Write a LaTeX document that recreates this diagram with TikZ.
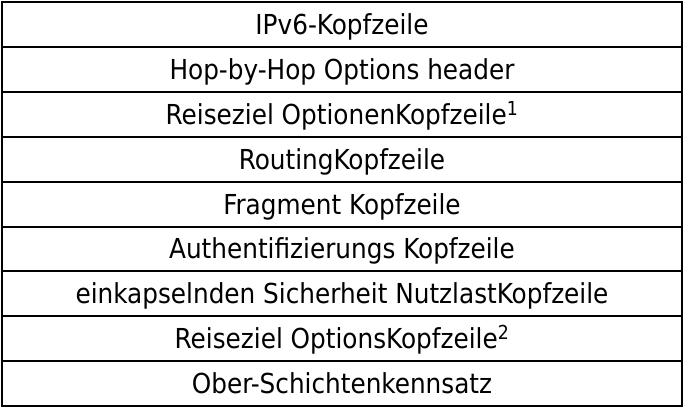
\documentclass[tikz,border=0pt]{standalone}
\usepackage{fontspec}
\setmainfont{DejaVu Sans Condensed}
\usepackage{tikz}

\begin{document}
\begin{tikzpicture}[x=1pt,y=1pt,
	every node/.style={draw,line width=2pt,minimum width=680pt,minimum height=44.9pt,inner sep=0pt,text height=20pt,text depth=0pt,font=\fontsize{27.5}{30}\selectfont}]
\useasboundingbox (0,0) rectangle (685,-415);
\def\rowh{44.9}

%rows
\foreach \txt [count=\i] in {IPv6-Kopfzeile,Hop-by-Hop Options header,Reiseziel OptionenKopfzeile\textsuperscript{1},RoutingKopfzeile,Fragment Kopfzeile,Authentifizierungs Kopfzeile,einkapselnden Sicherheit NutzlastKopfzeile,Reiseziel OptionsKopfzeile\textsuperscript{2},Ober-Schichtenkennsatz}{
	\pgfmathsetmacro{\pos}{-2-\rowh*(\i-0.5)}
	\node (row\i) at (342,\pos) {\txt};
}

\end{tikzpicture}
\end{document}
